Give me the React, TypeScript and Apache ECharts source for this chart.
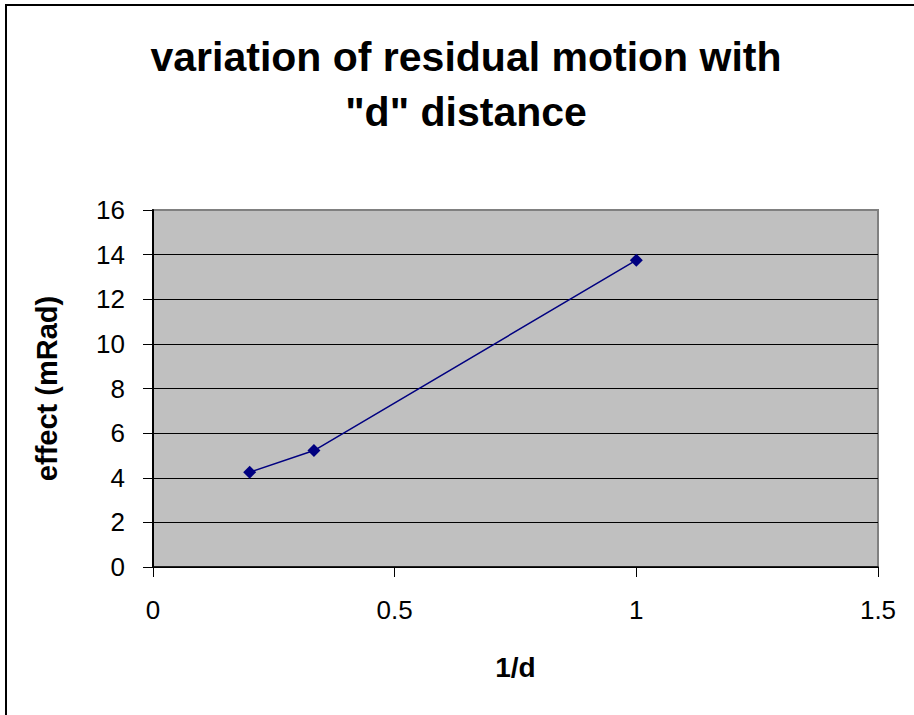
import React, { useEffect, useRef } from "react";
import * as echarts from "echarts";

const xValues = [0.2, 0.333, 1];
const yValues = [4.25, 5.22, 13.75];
const titleLines = ["variation of residual motion with", "\"d\" distance"];
const xName = "1/d";
const yName = "effect (mRad)";

export default function App() {
  const ref = useRef<HTMLDivElement>(null);
  useEffect(() => {
    if (!ref.current) return;
    const chart = echarts.init(ref.current, null, { renderer: "svg" });
    const font = "'Liberation Sans', Arial, sans-serif";
    chart.setOption({
      animation: false,
      backgroundColor: "#ffffff",
      textStyle: { fontFamily: font },
      graphic: [
        {
          type: "rect",
          shape: { x: 6, y: 5, width: 1200, height: 1200 },
          style: { fill: "none", stroke: "#000", lineWidth: 2 },
          silent: true,
        },
        {
          type: "text",
          x: 466,
          y: 29,
          style: {
            text: titleLines.join("\n"),
            fontFamily: font,
            fontWeight: "bold",
            fontSize: 41,
            lineHeight: 55,
            fill: "#000",
            align: "center",
            verticalAlign: "top",
          },
        },
      ],
      grid: {
        left: 153,
        right: 36,
        top: 210,
        bottom: 148,
        show: true,
        backgroundColor: "#C0C0C0",
        borderColor: "#808080",
        borderWidth: 2,
      },
      xAxis: {
        type: "value",
        min: 0,
        max: 1.5,
        interval: 0.5,
        name: xName,
        nameLocation: "middle",
        nameGap: 86,
        nameTextStyle: { fontFamily: font, fontWeight: "bold", fontSize: 28, color: "#000" },
        axisLine: { show: true, onZero: false, lineStyle: { color: "#000", width: 1.5 } },
        axisTick: { show: true, length: 10, lineStyle: { color: "#000" } },
        axisLabel: { fontFamily: font, fontSize: 26, color: "#000", margin: 30 },
        splitLine: { show: false },
      },
      yAxis: {
        type: "value",
        min: 0,
        max: 16,
        interval: 2,
        name: yName,
        nameLocation: "middle",
        nameGap: 92,
        nameTextStyle: { fontFamily: font, fontWeight: "bold", fontSize: 29, color: "#000" },
        axisLine: { show: true, lineStyle: { color: "#000", width: 2 } },
        axisTick: { show: true, length: 10, lineStyle: { color: "#000" } },
        axisLabel: { fontFamily: font, fontSize: 26, color: "#000", margin: 28 },
        splitLine: { show: true, showMaxLine: false, lineStyle: { color: "#000", width: 1 } },
      },
      series: [
        {
          type: "line",
          data: xValues.map((x, i) => [x, yValues[i]]),
          symbol: "diamond",
          symbolSize: 13,
          itemStyle: { color: "#000080" },
          lineStyle: { color: "#000080", width: 1.5 },
        },
      ],
    });
    return () => chart.dispose();
  }, []);
  return (
    <div
      ref={ref}
      style={{ position: "fixed", left: 0, top: 0, width: 914, height: 715 }}
    />
  );
}
